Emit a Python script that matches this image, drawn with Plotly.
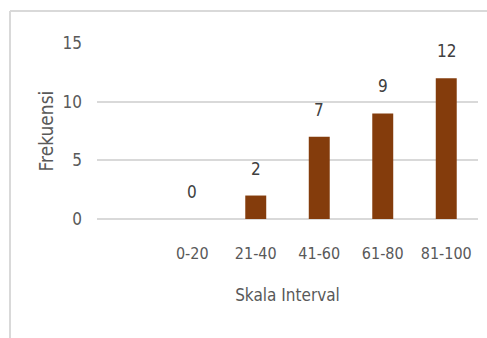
import plotly.graph_objects as go

categories = [" ", "0-20", "21-40", "41-60", "61-80", "81-100"]
values = [None, 0, 2, 7, 9, 12]
labels = ["", "0", "2", "7", "9", "12"]
y_ticks = [0, 5, 10, 15]

FONT = "DejaVu Sans Condensed, Liberation Sans Narrow, Arial Narrow, sans-serif"
GREY = "#595959"

fig = go.Figure(go.Bar(
    x=categories, y=values,
    marker=dict(color="#843C0C", line=dict(width=0)),
    width=0.33, hoverinfo="skip",
))

for c, v, t in zip(categories, values, labels):
    if v is None:
        continue
    fig.add_annotation(x=c, y=v, text=t, showarrow=False, xref="x", yref="y",
                       yanchor="middle", yshift=27,
                       font=dict(family=FONT, size=17, color="#404040"))

L, R, T, B = 97, 9, 43, 119
W, H = 487, 338
pw = W - L - R
ph = H - T - B

fig.update_layout(
    width=W, height=H, margin=dict(l=L, r=R, t=T, b=B),
    paper_bgcolor="white", plot_bgcolor="white",
    showlegend=False,
    font=dict(family=FONT, color=GREY),
    xaxis=dict(
        type="category", showgrid=False, showline=False, ticks="",
        tickfont=dict(size=16, color=GREY), ticklabelstandoff=23,
        title=dict(text="Skala Interval", font=dict(size=17, color=GREY), standoff=27),
    ),
    yaxis=dict(
        range=[0, 15], tickvals=y_ticks, showgrid=True, gridcolor="#d9d9d9", gridwidth=2,
        zeroline=True, zerolinecolor="#d9d9d9", zerolinewidth=2,
        showline=False, ticks="", ticklabelstandoff=14,
        tickfont=dict(size=17, color=GREY),
        title=dict(text="Frekuensi", font=dict(size=19, color=GREY), standoff=3),
    ),
    shapes=[
        dict(type="line", xref="paper", yref="paper",
             x0=(10 - L) / pw, x1=(W - L) / pw,
             y0=(H - B - 11) / ph, y1=(H - B - 11) / ph,
             line=dict(color="#d9d9d9", width=2)),
        dict(type="line", xref="paper", yref="paper",
             x0=(10 - L) / pw, x1=(10 - L) / pw,
             y0=(H - B - 11) / ph, y1=(H - B - 340) / ph,
             line=dict(color="#d9d9d9", width=2)),
    ],
)

fig.write_html("out.html", config={"displayModeBar": False},
               post_script="document.body.style.margin='0';")
